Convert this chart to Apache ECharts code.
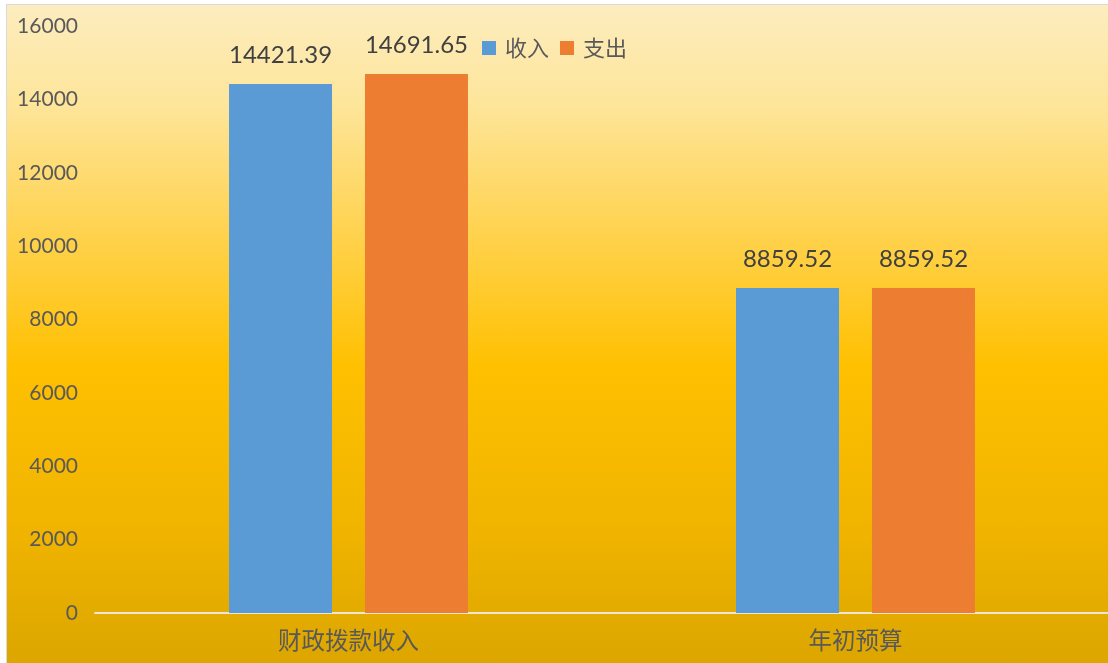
<!DOCTYPE html>
<html><head><meta charset="utf-8">
<script src="https://cdn.jsdelivr.net/npm/echarts@6/dist/echarts.min.js"></script>
<style>
html,body{margin:0;padding:0;background:#fff;width:1108px;height:663px;overflow:hidden}
#c{position:absolute;left:6px;top:4px;width:1102px;height:659px;border-left:1px solid #d9d9d9;border-top:1px solid #d9d9d9;
background:linear-gradient(to bottom,#fdedbf 0%,#fde59a 15%,#ffd24d 35%,#ffc000 55%,#f0b400 80%,#dca600 100%);}
</style></head><body>
<div id="c"></div>
<script>
const categories = ['财政拨款收入', '年初预算'];
const seriesNames = ['收入', '支出'];
const incomeValues = [14421.39, 8859.52];
const expenseValues = [14691.65, 8859.52];
const yTicks = [0, 2000, 4000, 6000, 8000, 10000, 12000, 14000, 16000];

const chart = echarts.init(document.getElementById('c'));
const numFont = "Lato, 'Noto Sans CJK SC', sans-serif";
const labelCfg = {show:true, position:'top', distance:17, color:'#404040', fontSize:24, fontFamily:numFont,
  formatter: p => p.value.toFixed(2)};
chart.setOption({
  animation:false,
  legend:{data:seriesNames, left:470, top:27, icon:'rect', itemWidth:14, itemHeight:14, itemGap:11,
    textStyle:{color:'#595959', fontSize:22, fontFamily:"'Noto Sans CJK SC', sans-serif", padding:[0,0,0,4]}},
  grid:{left:88, right:0, top:21, bottom:51, containLabel:false},
  xAxis:{type:'category', data:categories,
    axisLine:{lineStyle:{color:'#ece6d2', width:2}}, axisTick:{show:false},
    axisLabel:{color:'#595959', fontSize:23.5, margin:15, fontFamily:"'Noto Sans CJK SC', sans-serif"}},
  yAxis:{type:'value', min:yTicks[0], max:yTicks[yTicks.length-1], interval:2000,
    axisLine:{show:false}, axisTick:{show:false}, splitLine:{show:false},
    axisLabel:{color:'#595959', fontSize:21, margin:17, fontFamily:numFont, formatter: v => String(v)}},
  series:[
    {name:seriesNames[0], type:'bar', data:incomeValues, barWidth:103, barGap:'32%', itemStyle:{color:'#5b9bd5'}, label:labelCfg},
    {name:seriesNames[1], type:'bar', data:expenseValues, barWidth:103, barGap:'32%', itemStyle:{color:'#ed7d31'}, label:labelCfg}
  ]
});
</script></body></html>
